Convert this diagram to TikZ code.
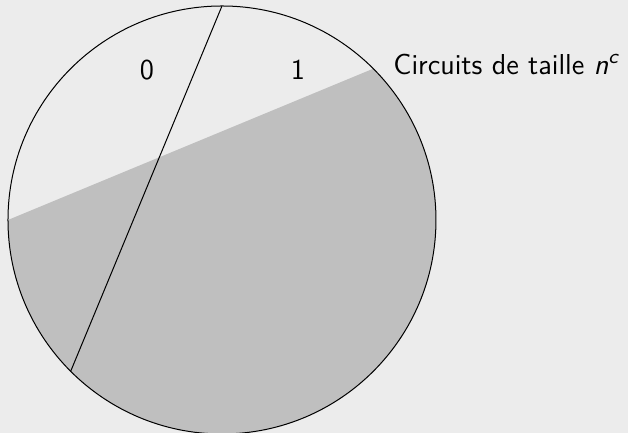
\documentclass[tikz,border=0pt]{standalone}
\usepackage{xcolor}
\usepackage{tikz}
\usetikzlibrary{positioning}
\definecolor{BackGray}{HTML}{ECECEC}
\definecolor{RegionGray}{HTML}{BFBFBF}

\begin{document}
\begin{tikzpicture}[
  lbl/.style={font=\sffamily\fontsize{11.5}{14}\selectfont, inner sep=0pt},
  region/.style={fill=RegionGray}
]
\fill[BackGray] (-3.112,-2.986) rectangle (5.692,3.084);
\useasboundingbox (-3.112,-2.986) rectangle (5.692,3.084);

\coordinate (o) at (0,0);
\coordinate (cutL) at (180:3);
\coordinate (cutR) at (45:3);
\coordinate (top) at (90:3);
\coordinate (bot) at (225:3);

\fill[region] (cutL) arc[start angle=180, end angle=405, radius=3] -- cycle;
\draw (o) circle[radius=3];
\draw (top) -- (bot);

\node[lbl, anchor=base] (zero) at (-1.051,1.973) {0};
\node[lbl, anchor=base] (one) at (1.065,1.973) {1};
\node[lbl, anchor=base west] (circ) at (2.397,2.040) {Circuits de taille \textit{n}\textsuperscript{\textit{c}}};
\end{tikzpicture}
\end{document}
